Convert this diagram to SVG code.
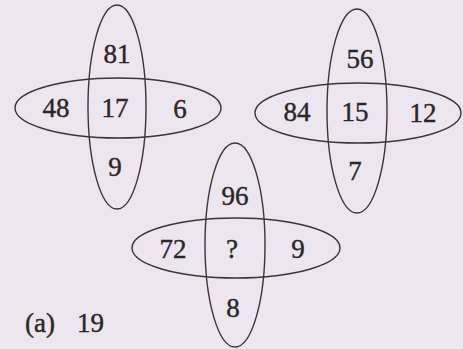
<svg xmlns="http://www.w3.org/2000/svg" width="463" height="349" viewBox="0 0 463 349">
<style>
.e{fill:none;stroke:#3a3638;stroke-width:1.4}
.t{font-family:"Liberation Serif","Times New Roman",serif;font-size:27px;fill:#2a2628;stroke:#2a2628;stroke-width:0.4;text-anchor:middle}
</style>
<rect width="463" height="349" fill="#ede6ee"/>
<g id="fig1">
<ellipse class="e" cx="117" cy="107" rx="29" ry="102"/>
<ellipse class="e" cx="118" cy="108" rx="103" ry="30"/>
<text class="t" x="117" y="63">81</text>
<text class="t" x="56" y="117">48</text>
<text class="t" x="115" y="117">17</text>
<text class="t" x="180" y="118">6</text>
<text class="t" x="115" y="176">9</text>
</g>
<g id="fig2">
<ellipse class="e" cx="357" cy="111" rx="30" ry="102"/>
<ellipse class="e" cx="358" cy="113" rx="103" ry="30"/>
<text class="t" x="360" y="68">56</text>
<text class="t" x="297" y="121">84</text>
<text class="t" x="355" y="121">15</text>
<text class="t" x="423" y="122">12</text>
<text class="t" x="355" y="180">7</text>
</g>
<g id="fig3">
<ellipse class="e" cx="235" cy="245" rx="30" ry="102"/>
<ellipse class="e" cx="236" cy="248" rx="104" ry="30"/>
<text class="t" x="235" y="205">96</text>
<text class="t" x="173" y="258">72</text>
<text class="t" x="232" y="258">?</text>
<text class="t" x="298" y="258">9</text>
<text class="t" x="233" y="317">8</text>
</g>
<text class="t" x="25" y="332" style="text-anchor:start">(a)</text>
<text class="t" x="77" y="332" style="text-anchor:start">19</text>
</svg>
